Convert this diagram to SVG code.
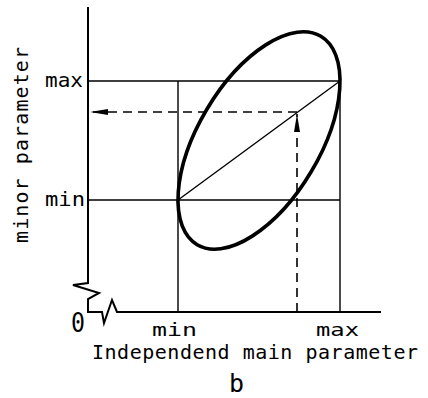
<svg xmlns="http://www.w3.org/2000/svg" width="428" height="398" viewBox="0 0 428 398">
<style>
.ax{fill:none;stroke:#000;stroke-width:2;stroke-linejoin:miter}
.th{fill:none;stroke:#000;stroke-width:1.4}
.dash{fill:none;stroke:#000;stroke-width:1.6;stroke-dasharray:9 6}
.el{fill:none;stroke:#000;stroke-width:3.6}
.t{font-family:"DejaVu Sans Mono","Liberation Mono",monospace;font-size:20px;fill:#000}
</style>
<defs>
<marker id="ah" markerUnits="userSpaceOnUse" viewBox="0 0 18 8" refX="18" refY="4" markerWidth="18" markerHeight="8" orient="auto">
<path d="M0,1 L18,4 L0,7 Z" fill="#000"/>
</marker>
</defs>
<rect width="428" height="398" fill="#fff"/>
<g id="axes">
<path class="ax" d="M88,7 V283 L73,285 L99,293 L88,299 V312 H102 L104,323 L112,300 L117,312 H381"/>
</g>
<g id="grid">
<path class="th" d="M88,81 H340 M88,200 H340 M178,81 V312 M340,81 V312"/>
<path class="th" d="M178,200 L340,81"/>
</g>
<g id="ellipse">
<ellipse class="el" cx="259" cy="140.5" rx="121.2" ry="60.8" transform="rotate(-59.3 259 140.5)"/>
</g>
<g id="connectors">
<line class="dash" x1="297" y1="112" x2="90" y2="112" marker-end="url(#ah)"/>
<line class="dash" x1="297" y1="312" x2="297" y2="114" marker-end="url(#ah)"/>
</g>
<g id="labels">
<text class="t" x="45" y="86.5" textLength="38" lengthAdjust="spacingAndGlyphs">max</text>
<text class="t" x="45" y="205.5" textLength="40" lengthAdjust="spacingAndGlyphs">min</text>
<text class="t" transform="translate(28,145) rotate(-90)" text-anchor="middle" textLength="196" lengthAdjust="spacing">minor parameter</text>
<text class="t" x="71" y="332" style="font-size:27px" textLength="14" lengthAdjust="spacingAndGlyphs">0</text>
<text class="t" x="152" y="336" style="font-size:18px" textLength="45" lengthAdjust="spacingAndGlyphs">min</text>
<text class="t" x="316" y="336" style="font-size:18px" textLength="43" lengthAdjust="spacingAndGlyphs">max</text>
<text class="t" x="92" y="359" textLength="326" lengthAdjust="spacing">Independend main parameter</text>
<text class="t" x="229" y="392" style="font-size:25px" textLength="15" lengthAdjust="spacingAndGlyphs">b</text>
</g>
</svg>
